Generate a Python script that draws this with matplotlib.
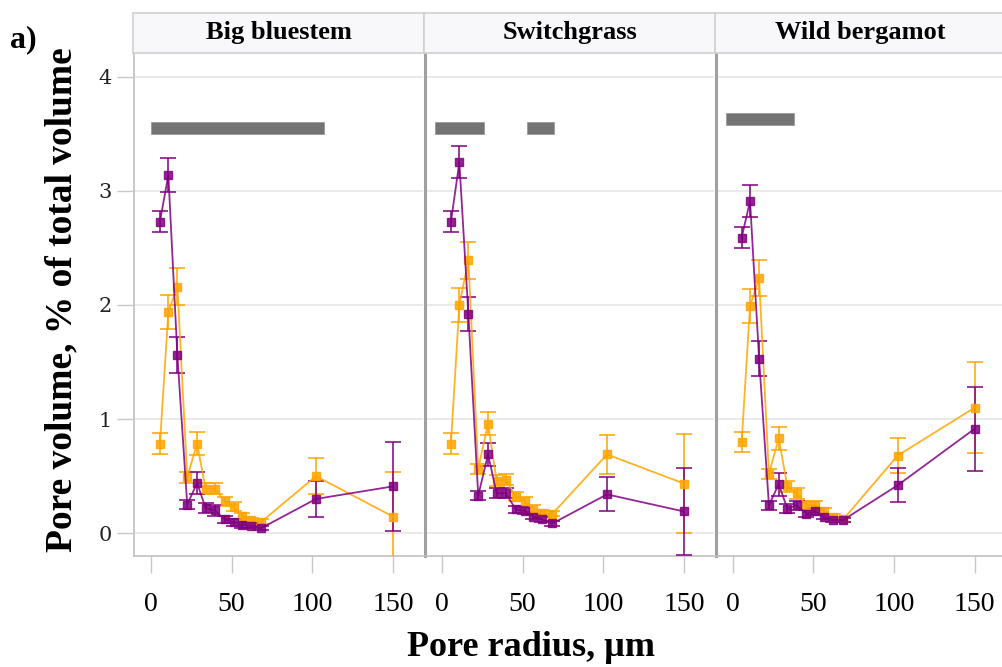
import matplotlib
matplotlib.use('Agg')
import matplotlib.pyplot as plt

# pore radius classes (um), shared by all panels
radius = [5.6, 10.8, 16.4, 22.5, 28.6, 33.9, 39.6, 45.7, 51.3, 56.7, 62.3, 68.5, 102.3, 150.0]

species = ['Big bluestem', 'Switchgrass', 'Wild bergamot']

purple_vals = [
    [2.73, 3.14, 1.56, 0.25, 0.44, 0.22, 0.20, 0.12, 0.095, 0.07, 0.065, 0.045, 0.30, 0.41],
    [2.73, 3.25, 1.92, 0.33, 0.69, 0.35, 0.35, 0.21, 0.195, 0.145, 0.12, 0.085, 0.34, 0.19],
    [2.59, 2.91, 1.53, 0.245, 0.43, 0.215, 0.245, 0.17, 0.19, 0.14, 0.115, 0.115, 0.42, 0.915],
]
purple_err = [
    [0.09, 0.15, 0.16, 0.04, 0.10, 0.045, 0.05, 0.03, 0.03, 0.025, 0.02, 0.02, 0.16, 0.39],
    [0.09, 0.14, 0.15, 0.04, 0.10, 0.045, 0.045, 0.03, 0.03, 0.025, 0.02, 0.02, 0.15, 0.38],
    [0.09, 0.14, 0.15, 0.04, 0.10, 0.04, 0.04, 0.03, 0.03, 0.02, 0.02, 0.02, 0.15, 0.37],
]
orange_vals = [
    [0.785, 1.94, 2.16, 0.49, 0.785, 0.39, 0.39, 0.28, 0.23, 0.15, 0.115, 0.10, 0.50, 0.145],
    [0.785, 2.00, 2.39, 0.565, 0.96, 0.46, 0.47, 0.32, 0.28, 0.215, 0.18, 0.17, 0.69, 0.435],
    [0.80, 1.99, 2.235, 0.52, 0.83, 0.41, 0.35, 0.245, 0.245, 0.19, 0.145, 0.12, 0.68, 1.10],
]
orange_err = [
    [0.09, 0.15, 0.16, 0.05, 0.10, 0.05, 0.05, 0.04, 0.04, 0.03, 0.02, 0.02, 0.16, 0.39],
    [0.09, 0.15, 0.16, 0.045, 0.10, 0.05, 0.05, 0.04, 0.04, 0.03, 0.02, 0.02, 0.17, 0.43],
    [0.09, 0.15, 0.16, 0.045, 0.10, 0.05, 0.05, 0.04, 0.04, 0.03, 0.02, 0.02, 0.155, 0.40],
]

# radius ranges with significant differences (grey bars) and their height
sig_ranges = [
    [(0.0, 107.0)],
    [(-4.2, 26.2), (52.7, 69.5)],
    [(-3.9, 37.8)],
]
sig_level = [3.55, 3.55, 3.63]

x_ticks = [0, 50, 100, 150]
y_ticks = [0, 1, 2, 3, 4]

ORANGE = '#ffa500'
PURPLE = '#800080'
W, H = 1002, 667

fig = plt.figure(figsize=(W / 100, H / 100), dpi=100)

panel_left = [134.3, 425.3, 716.0]
panel_w = 289.0
top_px, bottom_px, strip_top_px = 52.7, 556.0, 12.7

for i, name in enumerate(species):
    ax = fig.add_axes([panel_left[i] / W, (H - bottom_px) / H, panel_w / W, (bottom_px - top_px) / H])
    ax.set_xlim(-10.3, 168.8)
    ax.set_ylim(-0.2, 4.21)
    ax.set_yticks(y_ticks)
    ax.grid(axis='y', color='#e6e6e6', linewidth=1.2)
    ax.set_axisbelow(True)

    for lo, hi in sig_ranges[i]:
        ax.barh(sig_level[i], hi - lo, left=lo, height=0.105, color='#747474',
                edgecolor='#999999', linewidth=0.6, zorder=2)

    for vals, errs, col in [(orange_vals[i], orange_err[i], ORANGE), (purple_vals[i], purple_err[i], PURPLE)]:
        ax.errorbar(radius, vals, yerr=errs, color=col, ecolor=col, marker='s', markersize=5.5,
                    linewidth=1.3, elinewidth=1.3, capsize=5.5, capthick=1.3, alpha=0.85, zorder=3)

    ax.set_xticks(x_ticks)
    ax.set_xticklabels([str(t) for t in x_ticks])
    for lbl in ax.get_xticklabels():
        lbl.set_fontfamily('Liberation Serif')
        lbl.set_fontsize(20)
    ax.tick_params(axis='x', length=12, width=1, color='#c8c8c8', pad=14)
    for s in ['top', 'right']:
        ax.spines[s].set_visible(False)
    ax.spines['bottom'].set_color('#c0c0c0')
    ax.spines['bottom'].set_linewidth(1.2)
    if i == 0:
        ax.spines['left'].set_color('#c0c0c0')
        ax.spines['left'].set_linewidth(1.2)
        ax.set_yticklabels([str(t) for t in y_ticks])
        for lbl in ax.get_yticklabels():
            lbl.set_fontfamily('DejaVu Serif')
            lbl.set_fontsize(15)
            lbl.set_color('#222222')
        ax.tick_params(axis='y', length=12, width=1, color='#c8c8c8', pad=4)
    else:
        ax.spines['left'].set_color('#a0a0a0')
        ax.spines['left'].set_linewidth(2.2)
        ax.tick_params(axis='y', length=0, labelleft=False)

    # strip title above the panel
    sax = fig.add_axes([panel_left[i] / W - 1.0 / W, (H - top_px) / H, (panel_w + 2) / W,
                        (top_px - strip_top_px) / H])
    sax.set_facecolor('#f8f8fb')
    sax.set_xticks([])
    sax.set_yticks([])
    for s in sax.spines.values():
        s.set_color('#d0d0d0')
        s.set_linewidth(1.2)
    sax.text(0.5, 0.5, name, ha='center', va='center', fontfamily='Liberation Serif',
             fontweight='bold', fontsize=19, transform=sax.transAxes)

fig.text(531 / W, 1 - 648 / H, 'Pore radius, µm', ha='center', va='center',
         fontfamily='Liberation Serif', fontweight='bold', fontsize=26)
fig.text(62 / W, 1 - 300 / H, 'Pore volume, % of total volume', ha='center', va='center',
         rotation=90, fontfamily='Liberation Serif', fontweight='bold', fontsize=27)
fig.text(10 / W, 1 - 40 / H, 'a)', ha='left', va='center',
         fontfamily='Liberation Serif', fontweight='bold', fontsize=23)

fig.savefig('out.png', dpi=100)
